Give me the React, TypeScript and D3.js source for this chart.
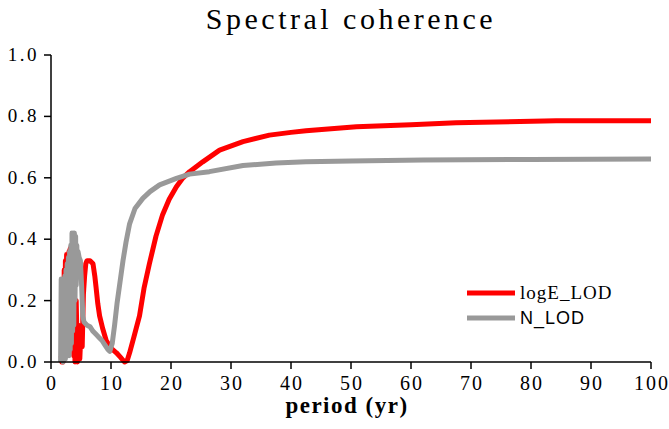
import * as d3 from 'd3';

// period (yr) / coherence pairs
const logE_period = [
  1.7, 1.8, 1.9, 2.0, 2.1, 2.2, 2.3, 2.4, 2.5, 2.6, 2.7, 2.8, 2.9, 3.0, 3.1, 3.2, 3.3, 3.4, 3.5,
  3.6, 3.7, 3.8, 3.9, 4.0, 4.2, 4.4, 4.6, 4.8, 5.0, 5.2, 5.4, 5.6, 5.8, 6.0, 6.5, 7.0, 7.3, 7.5,
  7.8, 8.1, 8.6, 9.2, 10.0, 10.9, 11.6, 12.25, 12.7, 13.1, 13.8, 14.75, 15.5, 16.4, 17.5, 18.6,
  19.7, 20.9, 22, 23.1, 25.3, 28.1, 32, 36.4, 40, 42.5, 50.9, 60, 67.5, 84.2, 100,
];
const logE_coh = [
  0.02, 0.0, 0.02, 0.0, 0.03, 0.3, 0.05, 0.33, 0.1, 0.35, 0.2, 0.34, 0.28, 0.36, 0.3, 0.37, 0.33, 0.375, 0.35,
  0.12, 0.3, 0.02, 0.25, 0.0, 0.2, 0.0, 0.12, 0.01, 0.1, 0.05, 0.22, 0.28, 0.32, 0.33, 0.33, 0.32, 0.28, 0.245,
  0.19, 0.15, 0.11, 0.07, 0.045, 0.03, 0.015, 0.0, 0.005, 0.03, 0.08, 0.15, 0.24, 0.32, 0.41, 0.48,
  0.53, 0.571, 0.6, 0.62, 0.652, 0.69, 0.718, 0.739, 0.748, 0.753, 0.766, 0.773, 0.779, 0.786, 0.786,
];

const N_period = [
  1.6, 1.7, 1.8, 1.9, 2.0, 2.1, 2.2, 2.3, 2.4, 2.5, 2.6, 2.7, 2.8, 2.9, 3.0, 3.1, 3.2, 3.3, 3.4,
  3.5, 3.6, 3.7, 3.8, 3.9, 4.0, 4.1, 4.2, 4.3, 4.4, 4.5, 4.7, 4.9, 5.1, 5.3, 5.5, 6.0, 6.5, 7.0,
  7.5, 8.0, 8.5, 9.0, 9.5, 9.8, 10.2, 10.6, 11.0, 11.5, 12.0, 12.5, 13.1, 14.0, 15.3, 16.5, 18.1,
  20.9, 23.1, 26.4, 32, 37.5, 42.5, 50, 62, 80, 100,
];
const N_coh = [
  0.0, 0.27, 0.02, 0.26, 0.0, 0.27, 0.03, 0.28, 0.01, 0.3, 0.02, 0.32, 0.05, 0.34, 0.02, 0.36, 0.04, 0.38, 0.06,
  0.42, 0.1, 0.42, 0.12, 0.42, 0.2, 0.41, 0.25, 0.38, 0.3, 0.36, 0.34, 0.33, 0.25, 0.15, 0.13, 0.12, 0.115, 0.1,
  0.09, 0.08, 0.07, 0.055, 0.04, 0.035, 0.06, 0.12, 0.19, 0.26, 0.33, 0.39, 0.45, 0.5, 0.533, 0.555, 0.577,
  0.598, 0.612, 0.62, 0.64, 0.648, 0.652, 0.655, 0.658, 0.66, 0.661,
];

const xTicks = [0, 10, 20, 30, 40, 50, 60, 70, 80, 90, 100];
const yTicks = [0, 0.2, 0.4, 0.6, 0.8, 1.0];

const W = 669;
const H = 429;
const margin = { top: 55, right: 18, bottom: 67, left: 51 };

const serif = 'Liberation Serif';
const sans = 'Liberation Sans';

export default function App() {
  const x = d3.scaleLinear().domain([0, 100]).range([margin.left, W - margin.right]);
  const y = d3.scaleLinear().domain([0, 1]).range([H - margin.bottom, margin.top]);

  const line = d3.line<[number, number]>()
    .x(d => x(d[0]))
    .y(d => y(d[1]));

  const redPts = logE_period.map((p, i) => [p, logE_coh[i]] as [number, number]);
  const grayPts = N_period.map((p, i) => [p, N_coh[i]] as [number, number]);

  const x0 = margin.left;
  const y0 = H - margin.bottom;

  return (
    <svg width={W} height={H} style={{ position: 'absolute', left: 0, top: 0, background: '#fff' }}>
      <text x={351} y={29} textAnchor="middle" style={{ fontFamily: serif, fontSize: 30, letterSpacing: 3.5 }}>
        Spectral coherence
      </text>

      {/* data lines */}
      <path d={line(redPts) || ''} fill="none" stroke="#ff0000" strokeWidth={5} strokeLinejoin="round" />
      <path d={line(grayPts) || ''} fill="none" stroke="#999999" strokeWidth={5} strokeLinejoin="round" />

      {/* axes */}
      <line x1={x0} x2={x0} y1={margin.top} y2={y0} stroke="#000" strokeWidth={1.5} />
      <line x1={x0} x2={W - margin.right} y1={y0} y2={y0} stroke="#000" strokeWidth={1.5} />
      {yTicks.map(t => (
        <g key={t}>
          <line x1={x0 - 7} x2={x0} y1={y(t)} y2={y(t)} stroke="#000" strokeWidth={1.5} />
          <text x={x0 - 12} y={y(t) + 6} textAnchor="end" style={{ fontFamily: serif, fontSize: 19, letterSpacing: 2.5 }}>
            {t.toFixed(1)}
          </text>
        </g>
      ))}
      {xTicks.map(t => (
        <g key={t}>
          <line x1={x(t)} x2={x(t)} y1={y0} y2={y0 + 7} stroke="#000" strokeWidth={1.5} />
          <text x={x(t) + 1} y={y0 + 28} textAnchor="middle" style={{ fontFamily: serif, fontSize: 20, letterSpacing: 2 }}>
            {t}
          </text>
        </g>
      ))}
      <text x={347} y={413} textAnchor="middle" style={{ fontFamily: serif, fontSize: 23, fontWeight: 'bold', letterSpacing: 1.5 }}>
        period (yr)
      </text>

      {/* legend */}
      <line x1={467} x2={515} y1={293} y2={293} stroke="#ff0000" strokeWidth={5} />
      <text x={520} y={299} style={{ fontFamily: serif, fontSize: 19, letterSpacing: 1 }}>logE_LOD</text>
      <line x1={467} x2={515} y1={318} y2={318} stroke="#999999" strokeWidth={5} />
      <text x={520} y={324} style={{ fontFamily: sans, fontSize: 18, letterSpacing: 1 }}>N_LOD</text>
    </svg>
  );
}
